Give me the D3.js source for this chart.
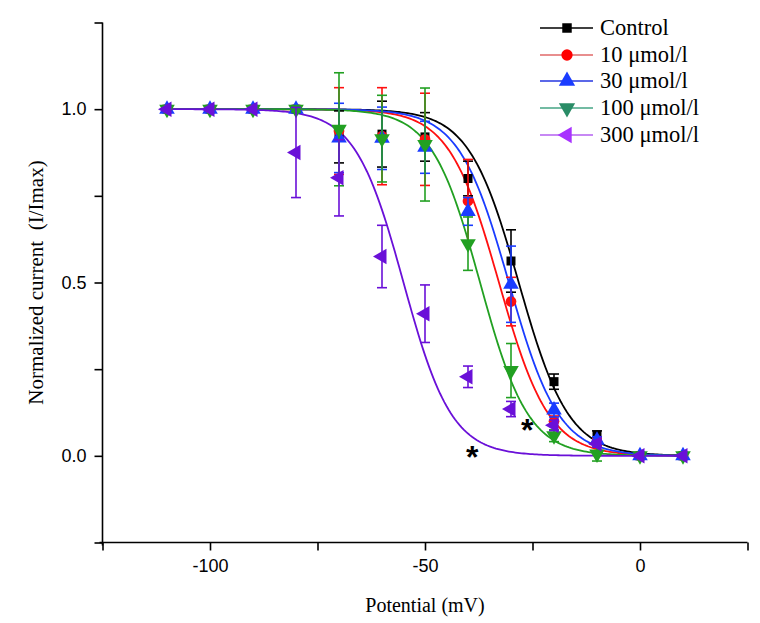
<!DOCTYPE html>
<html><head><meta charset="utf-8">
<script src="https://cdn.jsdelivr.net/npm/d3@7"></script>
<style>body{margin:0;background:#fff}</style>
</head><body>
<svg id="c" width="760" height="623"></svg>
<script>
const voltages = [-110,-100,-90,-80,-70,-60,-50,-40,-30,-20,-10,0,10];
const seriesNames = ["Control","10 \u03bcmol/l","30 \u03bcmol/l","100 \u03bcmol/l","300 \u03bcmol/l"];
const control   = [1,1,1,1,0.92,0.928,0.92,0.80,0.562,0.214,0.06,0,0];
const controlErr= [0,0,0,0,0.075,0.095,0.07,0.05,0.09,0.022,0.012,0,0];
const c10       = [1,1,1,1,0.937,0.922,0.913,0.735,0.445,0.10,0.04,0,0];
const c10Err    = [0,0,0,0.008,0.125,0.14,0.133,0.12,0.07,0.015,0.01,0,0];
const c30       = [1,1,1,1,0.917,0.916,0.89,0.705,0.495,0.132,0.045,0,0];
const c30Err    = [0,0,0,0.008,0.1,0.09,0.075,0.04,0.11,0.02,0.01,0,0];
const c100      = [1,1,1,1,0.942,0.915,0.898,0.612,0.246,0.058,0.005,0,0];
const c100Err   = [0,0,0,0.008,0.163,0.125,0.163,0.077,0.078,0.017,0.02,0,0];
const c300      = [1,1,1,0.875,0.802,0.575,0.41,0.228,0.135,0.088,0.035,0,0];
const c300Err   = [0,0,0,0.13,0.11,0.09,0.083,0.031,0.022,0.015,0.01,0,0];
// Boltzmann fit parameters (V1/2, slope k)
const fitVHalf = [-28.2,-32.8,-30.5,-37.2,-55];
const fitSlope = [5.8,5.8,5.8,5.6,5.6];
const xTicks = [-100,-50,0];
const xMinor = [-125,-75,-25,25];
const yTicks = [0.0,0.5,1.0];
const yMinor = [-0.25,0.25,0.75,1.25];
const stars = [{v:-39,y:0.008},{v:-26.2,y:0.087}];

const values = [control,c10,c30,c100,c300];
const errs = [controlErr,c10Err,c30Err,c100Err,c300Err];
const symbols = ["square","circle","up","down","left"];
const plotColors = ["#000000","#ff1010","#1a3cff","#22a022","#6a10d8"];
const legendLine = ["#000000","#e06868","#2436e0","#44a585","#b460f0"];
const legendMark = ["#000000","#ff0000","#1a3cff","#2a8c66","#a832ff"];

const svg = d3.select("#c");
const x = d3.scaleLinear().domain([-125,25]).range([102.5,747.5]);
const y = d3.scaleLinear().domain([-0.25,1.25]).range([542.5,22.5]);

function symPath(kind, size){
  let t = kind==="square"?d3.symbolSquare:kind==="circle"?d3.symbolCircle:d3.symbolTriangle;
  return d3.symbol().type(t).size(size)();
}
function symRot(kind){ return kind==="down"?180:kind==="left"?-90:0; }

// axes
const xAxis = d3.axisBottom(x).tickValues(xTicks).tickSize(8).tickPadding(9).tickFormat(d=>String(d));
const gx = svg.append("g").attr("transform",`translate(0,${y(-0.25)})`).call(xAxis);
svg.append("g").attr("transform",`translate(0,${y(-0.25)})`)
  .call(d3.axisBottom(x).tickValues(xMinor).tickSize(8).tickFormat(""))
  .select(".domain").remove();
gx.select(".domain").attr("d",`M${x(-125)-3},0H${x(25)}`);
const yAxis = d3.axisLeft(y).tickValues(yTicks).tickSize(8).tickPadding(8).tickFormat(d=>d.toFixed(1));
const gy = svg.append("g").attr("transform",`translate(${x(-125)},0)`).call(yAxis);
svg.append("g").attr("transform",`translate(${x(-125)},0)`)
  .call(d3.axisLeft(y).tickValues(yMinor).tickSize(8).tickFormat(""))
  .select(".domain").remove();
gy.select(".domain").attr("d",`M0,${y(1.25)}V${y(-0.25)+3}`);
svg.selectAll(".domain,.tick line").attr("stroke","#000").attr("stroke-width",1.6);
svg.selectAll(".tick text").attr("font-family","'Liberation Sans', Arial, sans-serif").attr("font-size",18).attr("fill","#000");

// titles
svg.append("text").attr("x",x(-50)).attr("y",612).attr("text-anchor","middle")
  .attr("font-family","'Liberation Serif','Times New Roman',serif").attr("font-size",20).text("Potential (mV)");
svg.append("text").attr("transform",`translate(43,${y(0.5)}) rotate(-90)`).attr("text-anchor","middle")
  .attr("font-family","'Liberation Serif','Times New Roman',serif").attr("font-size",21)
  .attr("xml:space","preserve").style("white-space","pre").text("Normalized current  (I/Imax)");

// curves
const curveX = d3.range(-110,10.01,0.5);
values.forEach((vals,i)=>{
  const line = d3.line().x(v=>x(v)).y(v=>y(1/(1+Math.exp((v-fitVHalf[i])/fitSlope[i]))));
  svg.append("path").datum(curveX).attr("d",line).attr("fill","none")
    .attr("stroke",plotColors[i]).attr("stroke-width",1.8);
});

// error bars and markers
values.forEach((vals,i)=>{
  const g = svg.append("g");
  vals.forEach((v,j)=>{
    const e = errs[i][j];
    const cx = x(voltages[j]);
    if(e>0){
      g.append("line").attr("x1",cx).attr("x2",cx).attr("y1",y(v-e)).attr("y2",y(v+e))
        .attr("stroke",plotColors[i]).attr("stroke-width",1.6);
      [v-e,v+e].forEach(b=>g.append("line").attr("x1",cx-5).attr("x2",cx+5).attr("y1",y(b)).attr("y2",y(b))
        .attr("stroke",plotColors[i]).attr("stroke-width",1.6));
    }
    g.append("path").attr("d",symPath(symbols[i],symbols[i]==="circle"?90:symbols[i]==="square"?81:105))
      .attr("transform",`translate(${cx},${y(v)}) rotate(${symRot(symbols[i])})`)
      .attr("fill",plotColors[i]);
  });
});

// asterisks
stars.forEach(s=>svg.append("text").attr("x",x(s.v)).attr("y",y(s.y)+15).attr("text-anchor","middle")
  .attr("font-family","'Liberation Sans',Arial,sans-serif").attr("font-size",32).attr("font-weight","bold").text("*"));

// legend
const legRows = [28,55,81,108,135];
seriesNames.forEach((n,i)=>{
  const ly = legRows[i];
  svg.append("line").attr("x1",540).attr("x2",593).attr("y1",ly).attr("y2",ly)
    .attr("stroke",legendLine[i]).attr("stroke-width",1.6);
  svg.append("path").attr("d",symPath(symbols[i],symbols[i]==="circle"?100:symbols[i]==="square"?90:115))
    .attr("transform",`translate(567,${ly}) rotate(${symRot(symbols[i])})`).attr("fill",legendMark[i]);
  svg.append("text").attr("x",600).attr("y",ly+7).attr("font-family","'Liberation Serif','Times New Roman',serif")
    .attr("font-size",22.5).text(n);
});
</script>
</body></html>
